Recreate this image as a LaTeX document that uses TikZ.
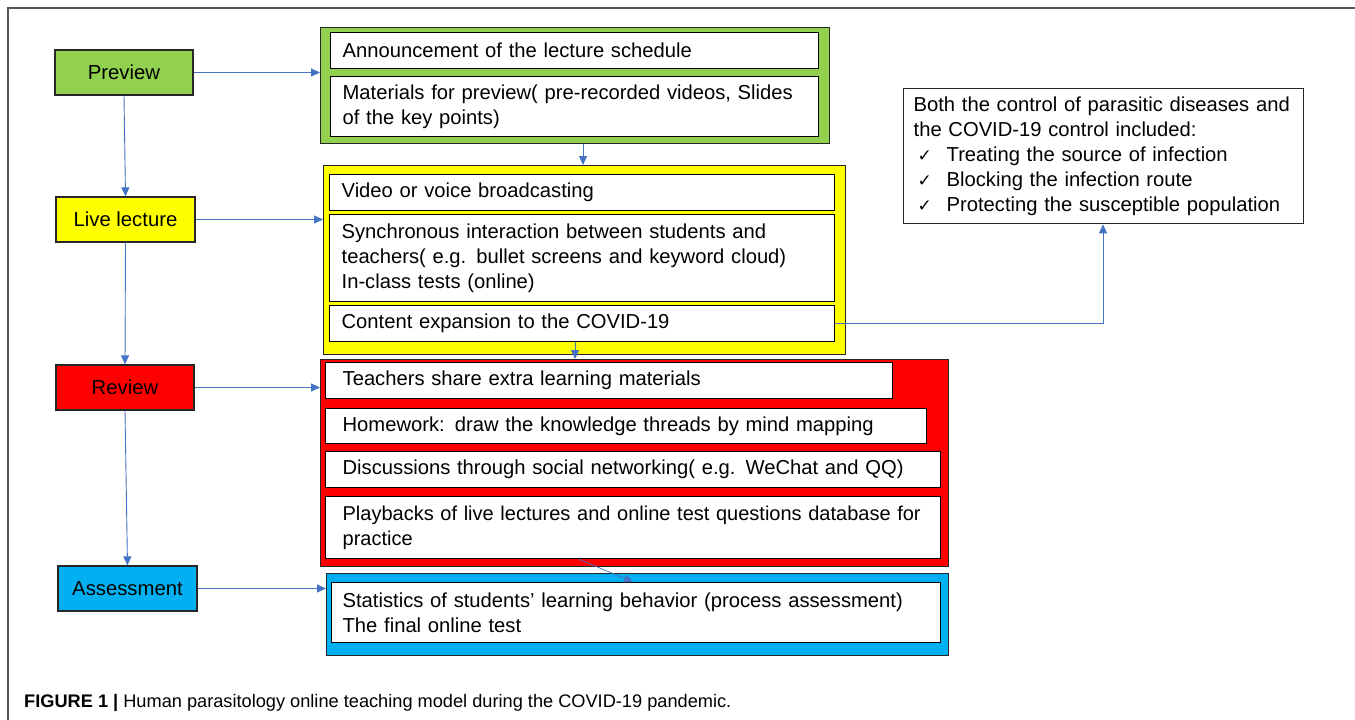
\documentclass[tikz,border=0pt]{standalone}
\usepackage{fontspec}
\setmainfont{Liberation Sans}
\usetikzlibrary{calc,arrows.meta}
\definecolor{pgreen}{HTML}{92D050}
\definecolor{pyellow}{HTML}{FFFF00}
\definecolor{pred}{HTML}{FF0000}
\definecolor{pblue}{HTML}{00B0F0}
\definecolor{arrblue}{HTML}{4472C4}
\definecolor{framegray}{HTML}{555555}
\newcommand{\chk}{\makebox[33pt][l]{\hspace{4pt}{\fontspec{DejaVu Sans}\fontsize{17}{25}\selectfont ✓}}}
\begin{document}
\begin{tikzpicture}[x=1pt,y=-1pt,
  stage/.style={draw=black!85,line width=1.3pt,minimum width=138pt,minimum height=45pt,inner sep=0pt,font=\fontsize{20.3}{24}\selectfont},
  group/.style={draw=black!85,line width=1.4pt,inner sep=0pt,anchor=north west},
  item/.style={draw=black,line width=1.3pt,fill=white,anchor=north west,inner xsep=12pt,inner ysep=2pt,align=left,font=\fontsize{20.2}{25}\selectfont},
  arr/.style={draw=arrblue,line width=0.9pt,-{Triangle[length=9pt,width=8pt]}}]
\useasboundingbox (0,0) rectangle (1355,720);
% outer frame
\draw[framegray,line width=1.3pt] (8,725) -- (8,8) -- (1360,8);
% stage boxes
\node[stage,fill=pgreen] (prev) at (124,72.5) {Preview};
\node[stage,fill=pyellow,minimum width=139pt] (live) at (125.5,219.5) {Live lecture};
\node[stage,fill=pred] (rev) at (125,387.5) {Review};
\node[stage,fill=pblue,minimum width=139pt] (ass) at (127.5,588.5) {Assessment};
% groups
\node[group,fill=pgreen,minimum width=509pt,minimum height=116pt] (gG) at (320,27) {};
\node[group,fill=pyellow,minimum width=522pt,minimum height=189pt] (gY) at (323,165) {};
\node[group,fill=pred,minimum width=628pt,minimum height=207pt] (gR) at (320,359) {};
\node[group,fill=pblue,minimum width=622pt,minimum height=82pt] (gB) at (326,573) {};
% green items
\node[item,text width=464pt,minimum height=36pt] (g1) at (330,32) {Announcement of the lecture schedule};
\node[item,text width=464pt,minimum height=60pt] (g2) at (330,76) {Materials for preview( pre-recorded videos, Slides\\of the key points)};
% yellow items
\node[item,text width=481pt,minimum height=36pt] (y1) at (329,174) {Video or voice broadcasting};
\node[item,text width=481pt,minimum height=87pt] (y2) at (329,214) {Synchronous interaction between students and\\teachers( e.g. bullet screens and keyword cloud)\\In-class tests (online)};
\node[item,text width=481pt,minimum height=36pt] (y3) at (329,305) {Content expansion to the COVID-19};
% red items
\node[item,inner xsep=17pt,text width=533pt,minimum height=36pt] (r1) at (325,362) {Teachers share extra learning materials};
\node[item,inner xsep=17pt,text width=567pt,minimum height=35pt] (r2) at (325,408) {Homework: draw the knowledge threads by mind mapping};
\node[item,inner xsep=17pt,text width=581pt,minimum height=36pt] (r3) at (325,451) {Discussions through social networking( e.g. WeChat and QQ)};
\node[item,inner xsep=17pt,text width=581pt,minimum height=62pt,font=\fontsize{20}{25}\selectfont] (r4) at (325,496) {\makebox[581pt][l]{Playbacks of live lectures and online test questions database for}\\practice};
% blue item
\node[item,inner xsep=11pt,text width=587pt,minimum height=60pt] (b1) at (331,582) {Statistics of students' learning behavior (process assessment)\\The final online test};
% right box
\node[draw=black!85,line width=1.3pt,anchor=north west,minimum width=400pt,minimum height=135pt,inner xsep=10pt,inner ysep=4pt,align=left,text width=380pt,font=\fontsize{20.2}{25}\selectfont] (ctrl) at (903,88) {Both the control of parasitic diseases and\\the COVID-19 control included:\\\chk Treating the source of infection\\\chk Blocking the infection route\\\chk Protecting the susceptible population};
% connectors
\draw[arr] (prev.south) -- (live.north);
\draw[arr] (live.south) -- (rev.north);
\draw[arr] (rev.south) -- (ass.north);
\draw[arr] (prev.east) -- (prev.east -| gG.west);
\draw[arr] (live.east) -- (live.east -| gY.west);
\draw[arr] (rev.east) -- (rev.east -| gR.west);
\draw[arr] (ass.east) -- (ass.east -| gB.west);
\coordinate (gy) at ($(gY.north west)+(260,0)$);
\draw[arr] (gy |- gG.south) -- (gy);
\coordinate (yr) at ($(y3.south west)+(246,0)$);
\draw[arr] (yr) -- (yr |- gR.north);
\coordinate (rb1) at ($(r4.south west)+(254,0)$);
\coordinate (rb2) at ($(b1.north west)+(302,0)$);
\draw[arr,line width=0.7pt] (rb1) -- (rb2);
\coordinate (cc) at ($(ctrl.south west)+(200,0)$);
\draw[arr] (y3.east) -| (cc);
% caption
\node[anchor=west,inner sep=0pt,font=\fontsize{18.2}{21}\selectfont] (cap) at (24,703) {\textbf{FIGURE 1 |} Human parasitology online teaching model during the COVID-19 pandemic.};
\end{tikzpicture}
\end{document}
